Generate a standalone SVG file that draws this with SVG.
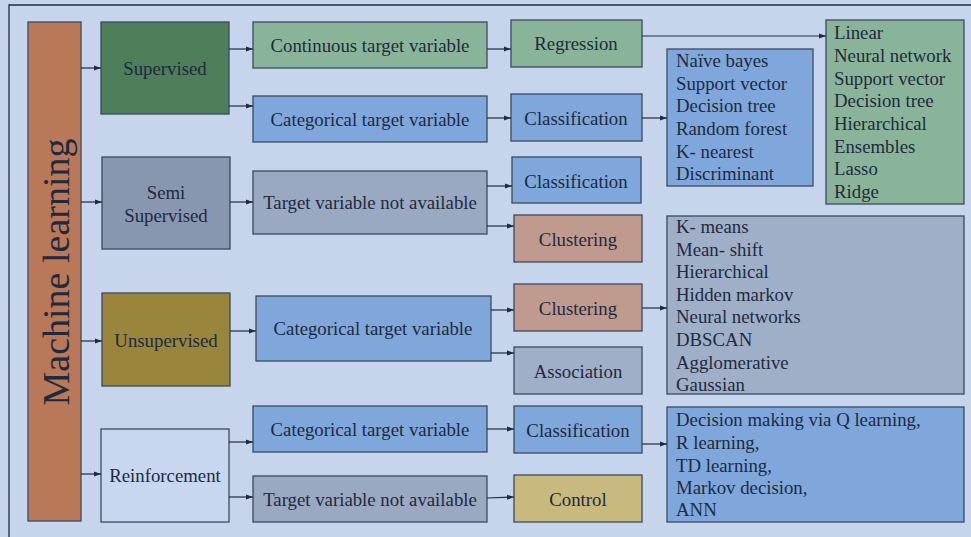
<svg xmlns="http://www.w3.org/2000/svg" width="971" height="537" viewBox="0 0 971 537">
  <defs>
    <marker id="arrow" markerWidth="8" markerHeight="6" refX="7" refY="3" orient="auto" markerUnits="userSpaceOnUse">
      <path d="M0,0.5 L7,3 L0,5.5 Z" fill="#1f2b40"/>
    </marker>
  </defs>
  <style>
    .box { stroke: #3b4a60; stroke-width: 1.3; }
    .t { font-family: "Liberation Serif", "Times New Roman", serif; font-size: 18.8px; fill: #1e2a3e; }
    .c { text-anchor: middle; }
    .edge { stroke: #1f2b40; stroke-width: 1.2; fill: none; marker-end: url(#arrow); }
    .green { fill: #8ab49a; }
    .blue { fill: #7fa7db; }
    .slate { fill: #9aa8c2; }
    .grey { fill: #a0afc8; }
    .rose { fill: #c09a8e; }
  </style>

  <!-- page background with frame lines -->
  <rect x="0" y="0" width="971" height="537" fill="#c6d4ec"/>
  <path d="M9,537 L9,5 L971,5" stroke="#1f2b40" stroke-width="1.3" fill="none"/>

  <!-- root -->
  <g id="machine-learning">
    <rect class="box" x="28" y="22" width="53" height="499" fill="#b97858"/>
    <text class="t c" x="0" y="0" transform="translate(69,272) rotate(-90)" style="font-size:38px">Machine learning</text>
  </g>

  <!-- learning categories -->
  <g id="supervised">
    <rect class="box" x="101" y="22" width="128" height="92" fill="#4f7e5b"/>
    <text class="t c" x="165" y="75">Supervised</text>
  </g>
  <g id="semi-supervised">
    <rect class="box" x="102" y="157" width="128" height="92" fill="#8896b0"/>
    <text class="t c" x="166" y="199">Semi</text>
    <text class="t c" x="166" y="222">Supervised</text>
  </g>
  <g id="unsupervised">
    <rect class="box" x="102" y="293" width="128" height="93" fill="#9a853c"/>
    <text class="t c" x="166" y="347">Unsupervised</text>
  </g>
  <g id="reinforcement">
    <rect class="box" x="101" y="429" width="128" height="93" fill="#c9d6ef"/>
    <text class="t c" x="165" y="482">Reinforcement</text>
  </g>

  <!-- target variable kinds -->
  <g id="sup-continuous">
    <rect class="box green" x="253" y="22" width="234" height="46"/>
    <text class="t c" x="370" y="52">Continuous target variable</text>
  </g>
  <g id="sup-categorical">
    <rect class="box blue" x="253" y="96" width="234" height="46"/>
    <text class="t c" x="370" y="126">Categorical target variable</text>
  </g>
  <g id="semi-none">
    <rect class="box slate" x="253" y="171" width="234" height="63"/>
    <text class="t c" x="370" y="209">Target variable not available</text>
  </g>
  <g id="unsup-categorical">
    <rect class="box blue" x="256" y="296" width="235" height="65"/>
    <text class="t c" x="373" y="335">Categorical target variable</text>
  </g>
  <g id="reinf-categorical">
    <rect class="box blue" x="253" y="406" width="234" height="46"/>
    <text class="t c" x="370" y="436">Categorical target variable</text>
  </g>
  <g id="reinf-none">
    <rect class="box slate" x="253" y="476" width="234" height="46"/>
    <text class="t c" x="370" y="506">Target variable not available</text>
  </g>

  <!-- tasks -->
  <g id="regression">
    <rect class="box green" x="511" y="20" width="131" height="47"/>
    <text class="t c" x="576" y="50">Regression</text>
  </g>
  <g id="sup-classification">
    <rect class="box blue" x="511" y="94" width="131" height="47"/>
    <text class="t c" x="576" y="125">Classification</text>
  </g>
  <g id="semi-classification">
    <rect class="box blue" x="512" y="157" width="129" height="46"/>
    <text class="t c" x="576" y="188">Classification</text>
  </g>
  <g id="semi-clustering">
    <rect class="box rose" x="514" y="215" width="128" height="47"/>
    <text class="t c" x="578" y="246">Clustering</text>
  </g>
  <g id="unsup-clustering">
    <rect class="box rose" x="514" y="284" width="128" height="47"/>
    <text class="t c" x="578" y="315">Clustering</text>
  </g>
  <g id="association">
    <rect class="box grey" x="514" y="347" width="128" height="47"/>
    <text class="t c" x="578" y="378">Association</text>
  </g>
  <g id="reinf-classification">
    <rect class="box blue" x="514" y="406" width="128" height="47"/>
    <text class="t c" x="578" y="437">Classification</text>
  </g>
  <g id="control">
    <rect class="box" x="514" y="475" width="128" height="47" fill="#c8b97e"/>
    <text class="t c" x="578" y="506">Control</text>
  </g>

  <!-- algorithm lists -->
  <g id="regression-methods">
    <rect class="box green" x="826" y="20" width="138" height="184"/>
    <text class="t" x="834" y="39">Linear</text>
    <text class="t" x="834" y="62">Neural network</text>
    <text class="t" x="834" y="85">Support vector</text>
    <text class="t" x="834" y="107">Decision tree</text>
    <text class="t" x="834" y="130">Hierarchical</text>
    <text class="t" x="834" y="153">Ensembles</text>
    <text class="t" x="834" y="175">Lasso</text>
    <text class="t" x="834" y="198">Ridge</text>
  </g>
  <g id="classification-methods">
    <rect class="box blue" x="667" y="49" width="146" height="137"/>
    <text class="t" x="676" y="67">Naïve bayes</text>
    <text class="t" x="676" y="90">Support vector</text>
    <text class="t" x="676" y="112">Decision tree</text>
    <text class="t" x="676" y="135">Random forest</text>
    <text class="t" x="676" y="158">K- nearest</text>
    <text class="t" x="676" y="180">Discriminant</text>
  </g>
  <g id="clustering-methods">
    <rect class="box grey" x="667" y="216" width="297" height="178"/>
    <text class="t" x="676" y="233">K- means</text>
    <text class="t" x="676" y="256">Mean- shift</text>
    <text class="t" x="676" y="278">Hierarchical</text>
    <text class="t" x="676" y="301">Hidden markov</text>
    <text class="t" x="676" y="323">Neural networks</text>
    <text class="t" x="676" y="346">DBSCAN</text>
    <text class="t" x="676" y="369">Agglomerative</text>
    <text class="t" x="676" y="391">Gaussian</text>
  </g>
  <g id="reinforcement-methods">
    <rect class="box blue" x="667" y="407" width="297" height="115"/>
    <text class="t" x="676" y="426">Decision making via Q learning,</text>
    <text class="t" x="676" y="449">R learning,</text>
    <text class="t" x="676" y="472">TD learning,</text>
    <text class="t" x="676" y="494">Markov decision,</text>
    <text class="t" x="676" y="516">ANN</text>
  </g>

  <!-- connectors -->
  <g id="connectors">
    <line class="edge" x1="81" y1="68" x2="101" y2="68"/>
    <line class="edge" x1="81" y1="202" x2="102" y2="202"/>
    <line class="edge" x1="81" y1="341" x2="102" y2="341"/>
    <line class="edge" x1="81" y1="474" x2="101" y2="474"/>

    <line class="edge" x1="229" y1="49" x2="253" y2="49"/>
    <line class="edge" x1="229" y1="106" x2="253" y2="106"/>
    <line class="edge" x1="230" y1="202" x2="253" y2="202"/>
    <line class="edge" x1="230" y1="331" x2="256" y2="331"/>
    <line class="edge" x1="229" y1="442" x2="253" y2="442"/>
    <line class="edge" x1="229" y1="497" x2="253" y2="497"/>

    <line class="edge" x1="487" y1="49" x2="511" y2="49"/>
    <line class="edge" x1="487" y1="118" x2="511" y2="118"/>
    <line class="edge" x1="487" y1="186" x2="512" y2="186"/>
    <line class="edge" x1="487" y1="226" x2="514" y2="226"/>
    <line class="edge" x1="491" y1="310" x2="514" y2="310"/>
    <line class="edge" x1="491" y1="353" x2="514" y2="353"/>
    <line class="edge" x1="487" y1="429" x2="514" y2="429"/>
    <line class="edge" x1="487" y1="498" x2="514" y2="497"/>

    <line class="edge" x1="642" y1="36" x2="826" y2="36"/>
    <line class="edge" x1="642" y1="118" x2="667" y2="118"/>
    <line class="edge" x1="642" y1="308" x2="667" y2="308"/>
    <line class="edge" x1="642" y1="444" x2="667" y2="444"/>
  </g>
</svg>
